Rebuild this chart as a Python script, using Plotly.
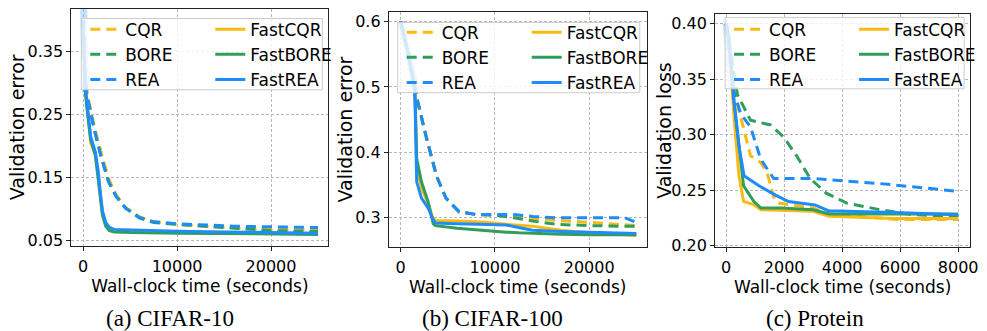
import plotly.graph_objects as go

# ---------------- data ----------------
methods = ["CQR", "BORE", "REA", "FastCQR", "FastBORE", "FastREA"]
colors = {"CQR": "#FBBA12", "BORE": "#2E9E5A", "REA": "#1E8CFA"}

# (a) CIFAR-10
c10_fast_x = [0, 200, 400, 800, 1300, 1600, 1800, 2050, 2400, 2800, 3300, 5000, 10000, 15000, 20000, 25000]
c10_fastrea = [0.40, 0.30, 0.27, 0.215, 0.19, 0.16, 0.13, 0.097, 0.078, 0.070, 0.067, 0.066, 0.064, 0.063, 0.062, 0.061]
c10_fastbore = [0.40, 0.29, 0.26, 0.21, 0.185, 0.15, 0.12, 0.090, 0.072, 0.065, 0.063, 0.062, 0.061, 0.060, 0.060, 0.059]
c10_fastcqr = [0.40, 0.295, 0.265, 0.205, 0.185, 0.155, 0.125, 0.093, 0.075, 0.067, 0.065, 0.064, 0.062, 0.061, 0.061, 0.060]
c10_x = [0, 200, 400, 800, 1200, 1900, 2700, 3500, 4500, 6000, 7500, 10000, 13000, 16000, 20000, 25000]
c10_rea = [0.40, 0.31, 0.28, 0.25, 0.225, 0.183, 0.143, 0.120, 0.101, 0.086, 0.079, 0.076, 0.074, 0.072, 0.071, 0.070]
c10_cqr = [0.40, 0.31, 0.285, 0.255, 0.23, 0.19, 0.148, 0.122, 0.102, 0.087, 0.079, 0.075, 0.072, 0.069, 0.067, 0.066]
c10_bore = [0.40, 0.31, 0.28, 0.25, 0.225, 0.183, 0.143, 0.120, 0.101, 0.085, 0.078, 0.075, 0.072, 0.068, 0.065, 0.064]
c10_band_x = [50, 250]
c10_band_y = [0.42, 0.285]

# (b) CIFAR-100
c100_fast_x = [0, 800, 1500, 1700, 2200, 2900, 3450, 3700, 6000, 9000, 11200, 12500, 14000, 17000, 20000, 25000]
c100_fastrea = [0.60, 0.55, 0.49, 0.355, 0.33, 0.315, 0.297, 0.292, 0.291, 0.290, 0.289, 0.285, 0.281, 0.279, 0.278, 0.276]
c100_fastbore = [0.60, 0.55, 0.50, 0.39, 0.355, 0.325, 0.291, 0.288, 0.284, 0.280, 0.278, 0.277, 0.276, 0.275, 0.274, 0.274]
c100_fastcqr = [0.60, 0.55, 0.50, 0.38, 0.345, 0.322, 0.298, 0.296, 0.295, 0.293, 0.290, 0.289, 0.287, 0.281, 0.277, 0.273]
c100_x = [0, 800, 1500, 1700, 2700, 3800, 4800, 6200, 8000, 10000, 12000, 14000, 16500, 20000, 23800, 25000]
c100_rea = [0.60, 0.55, 0.50, 0.484, 0.424, 0.364, 0.33, 0.309, 0.305, 0.305, 0.305, 0.302, 0.300, 0.300, 0.300, 0.293]
c100_cqr = [0.60, 0.55, 0.50, 0.484, 0.424, 0.364, 0.33, 0.309, 0.305, 0.304, 0.302, 0.299, 0.296, 0.293, 0.289, 0.288]
c100_bore = [0.60, 0.55, 0.50, 0.484, 0.424, 0.364, 0.33, 0.309, 0.305, 0.304, 0.300, 0.295, 0.290, 0.288, 0.287, 0.287]
c100_band_x = [0, 1500]
c100_band_y = [0.60, 0.505]

# (c) Protein
pr_fast_x = [0, 100, 270, 440, 600, 950, 1200, 1900, 3000, 3550, 5800, 8000]
pr_fastcqr = [0.40, 0.383, 0.316, 0.263, 0.240, 0.237, 0.2325, 0.232, 0.231, 0.2266, 0.2246, 0.2246]
pr_fastbore = [0.40, 0.385, 0.33, 0.29, 0.254, 0.240, 0.234, 0.234, 0.2325, 0.2287, 0.2287, 0.2287]
pr_fastrea_x = [0, 100, 270, 440, 615, 1130, 1700, 2150, 3060, 3520, 5800, 8000]
pr_fastrea = [0.40, 0.385, 0.33, 0.29, 0.263, 0.254, 0.2456, 0.2398, 0.2368, 0.2316, 0.230, 0.228]
pr_rea_x = [0, 250, 500, 840, 1190, 1640, 3000, 5300, 8000]
pr_rea = [0.40, 0.34, 0.319, 0.307, 0.278, 0.2605, 0.2605, 0.256, 0.249]
pr_bore_x = [0, 390, 840, 1530, 1980, 2430, 2900, 3450, 4140, 5290, 6430, 8000]
pr_bore = [0.40, 0.336, 0.313, 0.3088, 0.298, 0.281, 0.2605, 0.2474, 0.2386, 0.2325, 0.228, 0.2265]
pr_cqr_x = [0, 250, 500, 840, 1190, 1410, 1640, 1760, 3000, 3500, 5850, 8000]
pr_cqr = [0.40, 0.34, 0.316, 0.281, 0.275, 0.266, 0.244, 0.2386, 0.234, 0.229, 0.2237, 0.2237]
pr_band_x = [0, 200]
pr_band_y = [0.40, 0.342]

captions = ["(a) CIFAR-10", "(b) CIFAR-100", "(c) Protein"]
ylabels = ["Validation error", "Validation error", "Validation loss"]
xlabel = "Wall-clock time (seconds)"

panels = [
    dict(series={"CQR": (c10_x, c10_cqr), "FastCQR": (c10_fast_x, c10_fastcqr),
                 "BORE": (c10_x, c10_bore), "FastBORE": (c10_fast_x, c10_fastbore),
                 "REA": (c10_x, c10_rea), "FastREA": (c10_fast_x, c10_fastrea)},
         band=(c10_band_x, c10_band_y)),
    dict(series={"CQR": (c100_x, c100_cqr), "FastCQR": (c100_fast_x, c100_fastcqr),
                 "BORE": (c100_x, c100_bore), "FastBORE": (c100_fast_x, c100_fastbore),
                 "REA": (c100_x, c100_rea), "FastREA": (c100_fast_x, c100_fastrea)},
         band=(c100_band_x, c100_band_y)),
    dict(series={"CQR": (pr_cqr_x, pr_cqr), "FastCQR": (pr_fast_x, pr_fastcqr),
                 "BORE": (pr_bore_x, pr_bore), "FastBORE": (pr_fast_x, pr_fastbore),
                 "REA": (pr_rea_x, pr_rea), "FastREA": (pr_fastrea_x, pr_fastrea)},
         band=(pr_band_x, pr_band_y)),
]

# ---------------- layout geometry (pixels) ----------------
W, H = 987, 331
boxes = [(72, 331, 9, 252), (392, 652, 12, 253), (721, 978, 14, 253)]
xranges = [[-1250, 26100], [-1260, 26100], [-380, 8410]]
yranges = [[0.0407, 0.418], [0.2555, 0.615], [0.199, 0.409]]
xticks = [[0, 10000, 20000], [0, 10000, 20000], [0, 2000, 4000, 6000, 8000]]
yticks = [[0.05, 0.15, 0.25, 0.35], [0.3, 0.4, 0.5, 0.6], [0.20, 0.25, 0.30, 0.35, 0.40]]
ytickfmt = [".2f", ".1f", ".2f"]
legend_boxes = [(82, 325, 19, 92), (401, 645, 23, 95), (731, 972, 18, 91)]
legend_top = [12, 15, 12]
col2_offset = 126
caption_x = [171, 497, 822]
ytitle_x = [17, 348, 670]

FONT = "DejaVu Sans"
fig = go.Figure()
lay = {}
shapes = []
annotations = []
for i, p in enumerate(panels):
    sfx = "" if i == 0 else str(i + 1)
    xa, ya = "x" + sfx, "y" + sfx
    lg_a = "legend" + ("" if i == 0 else str(2 * i + 1))
    lg_b = "legend" + str(2 * i + 2)
    bx, by = p["band"]
    fig.add_trace(go.Scatter(x=bx, y=by, mode="lines", xaxis=xa, yaxis=ya,
                             line=dict(color="rgba(120,190,255,0.45)", width=7),
                             showlegend=False, hoverinfo="skip"))
    for m in methods:
        base = m.replace("Fast", "")
        xs, ys = p["series"][m]
        fast = m.startswith("Fast")
        fig.add_trace(go.Scatter(
            x=xs, y=ys, mode="lines", name=m, xaxis=xa, yaxis=ya,
            legend=lg_b if fast else lg_a, legendgroup=m + sfx,
            line=dict(color=colors[base], width=3, dash="solid" if fast else "10px,6px")))
    x0, x1, yt, yb = boxes[i]
    common = dict(showline=True, linecolor="#222", linewidth=1, mirror=True,
                  ticks="outside", ticklen=4, tickwidth=1, tickcolor="#222",
                  showgrid=True, gridcolor="#b8b8b8", gridwidth=0.8, griddash="3px,2px",
                  zeroline=False, tickfont=dict(family=FONT, size=16, color="black"))
    lay["xaxis" + sfx] = dict(common, domain=[x0 / W, x1 / W], anchor=ya,
                              range=xranges[i], tickvals=xticks[i], tickformat="d",
                              ticklabelstandoff=2,
                              title=dict(text=xlabel, font=dict(family=FONT, size=17, color="black"),
                                         standoff=1))
    lay["yaxis" + sfx] = dict(common, domain=[1 - yb / H, 1 - yt / H], anchor=xa,
                              range=yranges[i], tickvals=yticks[i], tickformat=ytickfmt[i])
    annotations.append(dict(text=ylabels[i], x=ytitle_x[i] / W, y=1 - ((yt + yb) / 2) / H,
                            xref="paper", yref="paper", xanchor="center", yanchor="middle",
                            textangle=-90, showarrow=False,
                            font=dict(family=FONT, size=19, color="black")))
    lx0, lx1, ly0, ly1 = legend_boxes[i]
    shapes.append(dict(type="rect", xref="paper", yref="paper", layer="above",
                       x0=lx0 / W, x1=lx1 / W, y0=1 - ly1 / H, y1=1 - ly0 / H,
                       fillcolor="rgba(255,255,255,0.8)", line=dict(color="#cccccc", width=1)))
    for k, lg in enumerate([lg_a, lg_b]):
        lay[lg] = dict(x=(lx0 + 4 + k * col2_offset) / W, y=1 - legend_top[i] / H,
                       xanchor="left", yanchor="top", xref="paper", yref="paper",
                       orientation="v", bgcolor="rgba(0,0,0,0)", borderwidth=0,
                       font=dict(family=FONT, size=17, color="black"), traceorder="grouped",
                       tracegroupgap=0)

annotations += [dict(text=c, x=caption_x[i] / W, y=1 - 326 / H, xref="paper", yref="paper",
                     xanchor="center", yanchor="middle", showarrow=False,
                     font=dict(family="Liberation Serif", size=23, color="black"))
                for i, c in enumerate(captions)]

fig.update_layout(width=W, height=H, margin=dict(l=0, r=0, t=0, b=0),
                  paper_bgcolor="white", plot_bgcolor="white",
                  annotations=annotations, shapes=shapes, **lay)
fig.write_html("out.html")
